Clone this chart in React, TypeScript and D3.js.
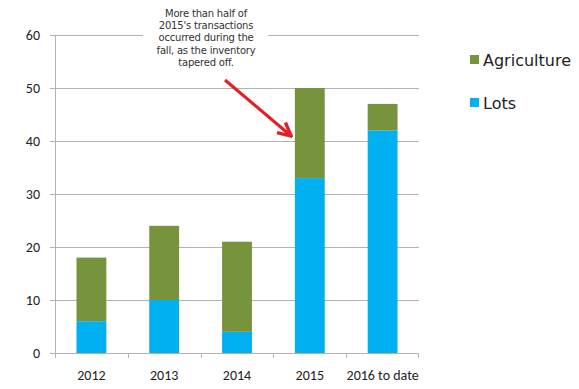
import { useEffect, useRef } from "react";
import * as d3 from "d3";

const categories = ["2012", "2013", "2014", "2015", "2016 to date"];
const lots = [6, 10, 4, 33, 42];
const agriculture = [12, 14, 17, 17, 5];
const yTicks = [0, 10, 20, 30, 40, 50, 60];
const seriesNames = ["Agriculture", "Lots"];
const note = [
  "More than half of",
  "2015's  transactions",
  "occurred during the",
  "fall, as the inventory",
  "tapered off.",
];

export default function App() {
  const svgRef = useRef<SVGSVGElement>(null);

  useEffect(() => {
    if (!svgRef.current) return;
    const svg = d3.select(svgRef.current);
    svg.selectAll("*").remove();

    const width = 579;
    const height = 389;
    const margin = { top: 35, right: 160, bottom: 36, left: 55 };
    const plotW = width - margin.left - margin.right;
    const plotH = height - margin.top - margin.bottom;

    const x = d3.scaleBand<string>().domain(categories).range([0, plotW]).paddingInner(0.59).paddingOuter(0.295);
    const y = d3.scaleLinear().domain([0, 60]).range([plotH, 0]);
    const band = d3.scaleBand<string>().domain(categories).range([0, plotW]);

    svg.append("rect").attr("width", width).attr("height", height).style("fill", "#fff");

    const g = svg.append("g").attr("transform", `translate(${margin.left},${margin.top})`);

    // gridlines
    g.selectAll(".grid")
      .data(yTicks.filter((t) => t > 0))
      .enter()
      .append("line")
      .attr("x1", 0)
      .attr("x2", plotW)
      .attr("y1", (d) => y(d) + 0.5)
      .attr("y2", (d) => y(d) + 0.5)
      .style("stroke", "#b3b3b3")
      .style("stroke-width", 1);

    // y axis line
    g.append("line")
      .attr("x1", 0.5).attr("x2", 0.5)
      .attr("y1", 0).attr("y2", plotH)
      .style("stroke", "#b3b3b3");

    yTicks.forEach((t) => {
      g.append("line")
        .attr("x1", -5).attr("x2", 0)
        .attr("y1", y(t) + 0.5).attr("y2", y(t) + 0.5)
        .style("stroke", "#b3b3b3");
      g.append("text")
        .attr("x", -15)
        .attr("y", y(t) + 5)
        .attr("text-anchor", "end")
        .style("font-family", "Carlito, 'Liberation Sans', sans-serif")
        .style("font-size", "14px")
        .style("fill", "#222")
        .text(t);
    });

    // x axis
    g.append("line")
      .attr("x1", 0).attr("x2", plotW)
      .attr("y1", plotH + 0.5).attr("y2", plotH + 0.5)
      .style("stroke", "#b3b3b3");
    categories.forEach((c) => {
      const xx = Math.round(band(c)!) + 0.5;
      g.append("line")
        .attr("x1", xx).attr("x2", xx)
        .attr("y1", plotH).attr("y2", plotH + 5)
        .style("stroke", "#b3b3b3");
    });
    g.append("line")
      .attr("x1", plotW - 0.5).attr("x2", plotW - 0.5)
      .attr("y1", plotH).attr("y2", plotH + 5)
      .style("stroke", "#b3b3b3");

    g.selectAll(".xl")
      .data(categories)
      .enter()
      .append("text")
      .attr("x", (d) => band(d)! + band.bandwidth() / 2)
      .attr("y", plotH + 27)
      .attr("text-anchor", "middle")
      .style("font-family", "Carlito, 'Liberation Sans', sans-serif")
      .style("font-size", "14px")
      .style("fill", "#222")
      .text((d) => d);

    // stacked bars
    categories.forEach((c, i) => {
      g.append("rect")
        .attr("x", x(c)!)
        .attr("width", x.bandwidth())
        .attr("y", y(lots[i]))
        .attr("height", plotH - y(lots[i]))
        .style("fill", "#00b0f0");
      g.append("rect")
        .attr("x", x(c)!)
        .attr("width", x.bandwidth())
        .attr("y", y(lots[i] + agriculture[i]))
        .attr("height", y(lots[i]) - y(lots[i] + agriculture[i]))
        .style("fill", "#77933c");
    });

    // annotation, white box over the top gridline
    svg.append("rect")
      .attr("x", 143).attr("y", 0)
      .attr("width", 125).attr("height", 68)
      .style("fill", "#fff");
    note.forEach((line, i) => {
      svg.append("text")
        .attr("x", 206)
        .attr("y", 17 + i * 12.2)
        .attr("text-anchor", "middle")
        .style("font-family", "'DejaVu Sans', sans-serif")
        .style("font-size", "10px")
        .style("letter-spacing", "-0.2px")
        .style("fill", "#333")
        .text(line);
    });

    // red arrow
    const defs = svg.append("defs");
    defs.append("marker")
      .attr("id", "arrowhead")
      .attr("viewBox", "0 0 10 10")
      .attr("refX", 8)
      .attr("refY", 5)
      .attr("markerWidth", 5.5)
      .attr("markerHeight", 5.5)
      .attr("orient", "auto")
      .append("path")
      .attr("d", "M1,1 L9,5 L1,9")
      .style("fill", "none")
      .style("stroke", "#e31e24")
      .style("stroke-width", 2);
    svg.append("line")
      .attr("x1", 225).attr("y1", 80)
      .attr("x2", 290).attr("y2", 135)
      .attr("marker-end", "url(#arrowhead)")
      .style("stroke", "#e31e24")
      .style("stroke-width", 3);

    // legend
    const legendColors = ["#77933c", "#00b0f0"];
    seriesNames.forEach((name, i) => {
      const ly = 60 + i * 43;
      svg.append("rect")
        .attr("x", 470).attr("y", ly - 5)
        .attr("width", 9).attr("height", 9)
        .style("fill", legendColors[i]);
      svg.append("text")
        .attr("x", 483)
        .attr("y", ly + 6)
        .style("font-family", "'DejaVu Sans', sans-serif")
        .style("font-size", "16px")
        .style("fill", "#222")
        .text(name);
    });
  }, []);

  return (
    <svg
      ref={svgRef}
      width={579}
      height={389}
      style={{ position: "absolute", left: 0, top: 0, display: "block" }}
    />
  );
}
